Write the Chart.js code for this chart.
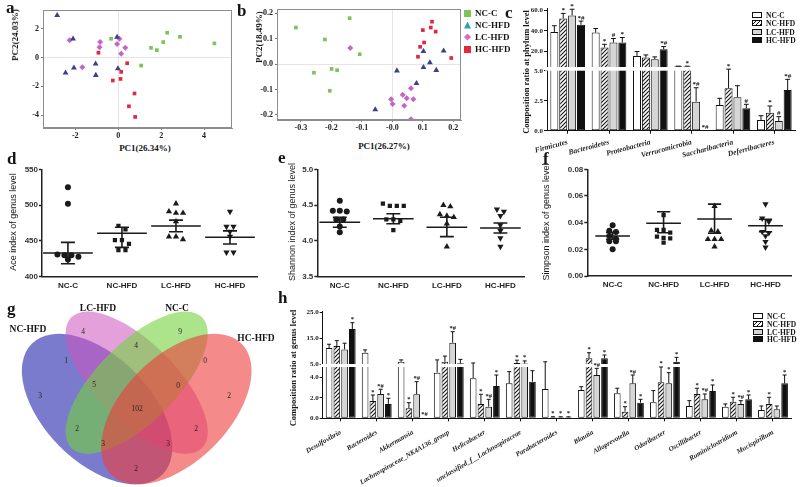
<!DOCTYPE html>
<html>
<head>
<meta charset="utf-8">
<script src="https://cdn.jsdelivr.net/npm/chart.js@4.4.1/dist/chart.umd.min.js"></script>
<style>
  body { margin: 0; background: #fff; }
  #fig { position: relative; width: 800px; height: 487px; overflow: hidden; background: #fff; }
  #fig canvas { position: absolute; }
  .t { position: absolute; white-space: nowrap; line-height: 1; color: #151515; }
</style>
</head>
<body>
<div id="fig"></div>
<script>
// ---------- data ----------
const groups = ['NC-C', 'NC-HFD', 'LC-HFD', 'HC-HFD'];

// a: PCA (PC1 x, PC2 y)
const pcaA_NCC = [[-0.33, 1.3], [1.07, -0.56], [1.53, 0.67], [1.8, 0.51], [2.1, 1.07], [2.28, 1.72], [2.88, 1.44], [4.48, 0.98]];
const pcaA_NCHFD = [[-2.84, 2.93], [-2.1, 1.3], [-2.45, -1.07], [-2.06, -0.72], [-1.05, -0.44], [-1.04, -1.23], [-0.05, 1.42], [-0.01, -0.77]];
const pcaA_LCHFD = [[-2.26, 1.2], [-1.67, -0.67], [-0.84, 1.07], [-0.87, 0.72], [-0.05, 0.93], [0.06, 1.3], [0.33, 0.67], [0.14, 0.26]];
const pcaA_HCHFD = [[-0.92, 0.33], [0.42, -0.4], [0.14, -1.0], [-0.25, -1.6], [0.11, -1.49], [0.76, -2.5], [0.5, -3.39], [0.79, -4.13]];

// b: PCA
const pcaB_NCC = [[-0.316, 0.144], [-0.14, 0.181], [-0.221, 0.097], [-0.107, 0.039], [-0.257, -0.034], [-0.199, -0.019], [-0.181, -0.024], [-0.205, -0.105]];
const pcaB_NCHFD = [[-0.056, -0.179], [0.015, -0.026], [0.079, -0.076], [0.102, 0.05], [0.102, -0.013], [0.123, 0.006], [0.144, -0.024], [0.168, 0.052]];
const pcaB_LCHFD = [[-0.004, -0.138], [0.001, -0.157], [0.034, -0.121], [0.047, -0.134], [0.039, -0.164], [0.061, -0.095], [0.069, -0.138], [0.061, -0.217], [-0.138, 0.063]];
const pcaB_HCHFD = [[0.084, 0.029], [0.091, 0.068], [0.104, 0.085], [0.1, 0.134], [0.126, 0.144], [0.13, 0.167], [0.142, 0.128], [0.193, 0.024]];

// c: phylum level composition (%), mean and SEM
const phyla = ['Firmicutes', 'Bacteroidetes', 'Proteobacteria', 'Verrucomicrobia', 'Saccharibacteria', 'Deferribacteres'];
const phylumNCC = [39, 38.4, 15.7, 5.6, 2.14, 0.89];
const phylumNCHFD = [52, 24, 14.2, 5.5, 3.53, 1.5];
const phylumLCHFD = [55, 28.7, 12.6, 2.42, 2.78, 0.81];
const phylumHCHFD = [46, 28.7, 22.2, 0.03, 1.87, 3.39];
const phylumErrNCC = [6, 3.9, 4.3, 0.2, 0.56, 0.36];
const phylumErrNCHFD = [5, 3, 2.5, 0.3, 1.6, 0.56];
const phylumErrLCHFD = [6, 3.9, 2.2, 1.16, 0.97, 0.36];
const phylumErrHCHFD = [3.5, 4.9, 2.6, 0, 0.33, 0.89];
const phylumMarks = [
  ['', '', '', '', '', ''],
  ['*', '*', '', '*', '*', '*'],
  ['*', '#', '', '*#', '', '#'],
  ['*#', '*', '*#', '*#', '#', '*#'],
];
const phylumTicksLo = [0, 2.5, 5];
const phylumTicksHi = [20, 40, 60];

// d-f: alpha diversity, genus level
const aceNCC = [525, 502, 431, 430, 430, 428, 424];
const aceNCHFD = [471, 466, 451, 451, 446, 437, 437];
const aceLCHFD = [502, 491, 489, 489, 477, 456, 452, 456];
const aceHCHFD = [491, 470, 470, 463, 456, 434, 434];
const aceMean = [433, 460.6, 470.8, 455];
const aceHi = [448, 469, 479, 464];
const aceLo = [418, 441, 462.8, 445.7];
const aceTicks = [400, 450, 500, 550];

const shanNCC = [4.56, 4.42, 4.42, 4.41, 4.3, 4.3, 4.2, 4.12];
const shanNCHFD = [4.52, 4.49, 4.49, 4.49, 4.3, 4.28, 4.3, 4.15];
const shanLCHFD = [4.5, 4.48, 4.37, 4.35, 4.33, 4.24, 3.92];
const shanHCHFD = [4.44, 4.41, 4.35, 4.22, 4.14, 4.04, 3.92];
const shanMean = [4.26, 4.31, 4.19, 4.18];
const shanHi = [4.33, 4.38, 4.33, 4.25];
const shanLo = [4.19, 4.24, 4.06, 4.11];
const shanTicks = [3.5, 4.0, 4.5, 5.0];

const simNCC = [0.038, 0.034, 0.033, 0.03, 0.028, 0.026, 0.026, 0.02];
const simNCHFD = [0.0457, 0.0345, 0.0345, 0.0325, 0.0295, 0.0282, 0.0285, 0.025];
const simLCHFD = [0.0524, 0.034, 0.0332, 0.0275, 0.0275, 0.0275, 0.022];
const simHCHFD = [0.0539, 0.0432, 0.0407, 0.0324, 0.0332, 0.03, 0.0257, 0.0215];
const simMean = [0.03, 0.0395, 0.0427, 0.0377];
const simHi = [0.0327, 0.0482, 0.0539, 0.0425];
const simLo = [0.0275, 0.0324, 0.032, 0.0332];
const simTicks = [0, 0.02, 0.04, 0.06, 0.08];

// g: shared genera (Venn)
const vennSets = ['NC-HFD', 'LC-HFD', 'NC-C', 'HC-HFD'];
const vennCounts = [3, 4, 9, 2, 1, 4, 0, 5, 102, 0, 2, 2, 3, 3, 2];

// h: genus level composition (%), mean and SEM
const genera = ['Desulfovibrio', 'Bacteroides', 'Akkermansia', 'Lachnospiraceae_NK4A136_group', 'Helicobacter',
  'unclassified_f__Lachnospiraceae', 'Parabacteroides', 'Blautia', 'Alloprevotella', 'Odoribacter',
  'Oscillibacter', 'Ruminiclostridium', 'Mucispirillum'];
const genusNCC = [11.2, 9.4, 5.9, 4.45, 3.9, 3.41, 2.86, 2.76, 2.44, 1.56, 1.2, 1.13, 0.81];
const genusNCHFD = [12.0, 1.69, 0.98, 5.9, 1.4, 5.4, 0.1, 7.2, 0.65, 3.51, 2.37, 1.62, 1.4];
const genusLCHFD = [10.7, 2.37, 2.34, 13.3, 1.13, 5.2, 0.1, 4.22, 3.41, 3.41, 1.85, 1.4, 0.88];
const genusHCHFD = [18.6, 1.4, 0.05, 5.3, 3.15, 3.57, 0.1, 7.2, 1.52, 5.9, 2.66, 1.85, 3.41];
const genusErrNCC = [1.5, 1.1, 0.7, 2.15, 1.5, 1.14, 3.0, 0.32, 0.49, 1.14, 0.52, 0.27, 0.39];
const genusErrNCHFD = [2.1, 0.58, 0.54, 2.2, 0.94, 1.1, 0.05, 2.2, 0.48, 1.49, 0.56, 0.43, 0.65];
const genusErrLCHFD = [2.4, 0.46, 1.23, 4.3, 0.72, 1.0, 0.05, 0.65, 0.81, 1.04, 0.52, 0.32, 0.32];
const genusErrHCHFD = [2.5, 0.55, 0, 1.5, 1.07, 1.07, 0.05, 1.3, 0.33, 1.7, 0.59, 0.42, 0.81];
const genusMarks = [
  ['', '', '', '', '', '', '', '', '', '', '', '', ''],
  ['', '*', '*', '', '*', '*', '*', '*', '*', '*', '*', '*', '*'],
  ['', '*#', '*#', '*#', '*#', '*', '*', '*#', '*#', '*', '*#', '*#', ''],
  ['*', '*', '*#', '', '*', '', '*', '*', '*', '*', '*', '*', '*'],
];
const genusTicksLo = [0, 2, 4];
const genusTicksHi = [5, 10, 15, 20, 25];

// ---------- setup ----------
const SERIF = '"Liberation Serif", "Times New Roman", serif';
const SANS = '"Liberation Sans", Arial, sans-serif';
const fig = document.getElementById('fig');

Chart.defaults.font.family = SERIF;
Chart.defaults.color = '#1c1c1c';
Chart.defaults.animation = false;
Chart.defaults.responsive = false;
Chart.defaults.events = [];
Chart.defaults.plugins.legend.display = false;
Chart.defaults.plugins.tooltip.enabled = false;

function canvasAt(left, top, w, h) {
  const c = document.createElement('canvas');
  c.width = w; c.height = h;
  c.style.left = left + 'px'; c.style.top = top + 'px';
  c.style.width = w + 'px'; c.style.height = h + 'px';
  fig.appendChild(c);
  return c;
}

// anchor: 'c' centre, 'l' left-middle, 'lt' left-top
function addText(txt, x, y, font, anchor = 'c', rot = 0) {
  const d = document.createElement('div');
  d.className = 't';
  d.textContent = txt;
  d.style.font = font;
  d.style.left = x + 'px';
  d.style.top = y + 'px';
  const tr = anchor === 'c' ? 'translate(-50%,-50%)' : anchor === 'l' ? 'translate(0,-50%)' : '';
  d.style.transform = `${tr} rotate(${rot}deg)`;
  fig.appendChild(d);
}

// force axis sizes so the plot areas land where the figure has them
const fitW = (w) => (s) => { s.width = w; s.paddingTop = 0; s.paddingBottom = 0; };
const fitH = (h) => (s) => { s.height = h; s.paddingLeft = 0; s.paddingRight = 0; };
const fixedTicks = (list) => (s) => { s.ticks = list.map((value) => ({ value })); };

function hatch() {
  const c = document.createElement('canvas');
  c.width = 4; c.height = 4;
  const g = c.getContext('2d');
  g.fillStyle = '#fff'; g.fillRect(0, 0, 4, 4);
  g.strokeStyle = '#111'; g.lineWidth = 1.1;
  g.beginPath();
  g.moveTo(-1, 5); g.lineTo(5, -1);
  g.moveTo(-1, 1); g.lineTo(1, -1);
  g.moveTo(3, 5); g.lineTo(5, 3);
  g.stroke();
  return g.createPattern(c, 'repeat');
}
const barFills = ['#ffffff', hatch(), '#d6d6d6', '#111111'];
const legendFills = ['#fff', 'repeating-linear-gradient(-45deg,#111 0 1px,#fff 1px 3px)', '#d6d6d6', '#111'];

// ---------- plugins ----------
const framePlugin = {
  id: 'frame',
  afterDatasetsDraw(chart) {
    const { ctx, chartArea: a } = chart;
    ctx.save();
    ctx.strokeStyle = '#8d8d8d';
    ctx.lineWidth = 1;
    ctx.strokeRect(a.left + 0.5, a.top + 0.5, a.right - a.left - 1, a.bottom - a.top - 1);
    ctx.restore();
  },
};

const meanErrPlugin = {
  id: 'meanErr',
  afterDatasetsDraw(chart, args, o) {
    const { ctx, scales: { x, y } } = chart;
    ctx.save();
    ctx.strokeStyle = '#1a1a1a';
    ctx.lineWidth = 1.6;
    const seg = (x0, x1, v) => {
      ctx.moveTo(x.getPixelForValue(x0), y.getPixelForValue(v));
      ctx.lineTo(x.getPixelForValue(x1), y.getPixelForValue(v));
    };
    o.mean.forEach((m, g) => {
      const c = g + 1;
      ctx.beginPath();
      seg(c - o.half, c + o.half, m);
      seg(c - o.cap, c + o.cap, o.hi[g]);
      seg(c - o.cap, c + o.cap, o.lo[g]);
      ctx.moveTo(x.getPixelForValue(c), y.getPixelForValue(o.lo[g]));
      ctx.lineTo(x.getPixelForValue(c), y.getPixelForValue(o.hi[g]));
      ctx.stroke();
    });
    ctx.restore();
  },
};

// white break band, SEM whiskers and significance marks on the broken-axis bar charts
const barErrPlugin = {
  id: 'barErr',
  afterDatasetsDraw(chart, args, o) {
    const { ctx, chartArea: a } = chart;
    const lo = chart.scales.yLo, hi = chart.scales.yHi;
    const px = (v) => (v <= o.loMax ? lo.getPixelForValue(v) : hi.getPixelForValue(v));
    ctx.save();
    const gTop = hi.getPixelForValue(5), gBot = lo.getPixelForValue(5);
    if (gBot > gTop) {
      ctx.fillStyle = '#fff';
      ctx.fillRect(a.left - 2, gTop, a.right - a.left + 3, gBot - gTop);
    }

    ctx.strokeStyle = '#111';
    ctx.lineWidth = 1;
    ctx.fillStyle = '#111';
    ctx.font = `bold ${o.markSize}px ${SERIF}`;
    ctx.textAlign = 'center';
    ctx.textBaseline = 'alphabetic';
    o.vals.forEach((arr, s) => {
      const meta = chart.getDatasetMeta(2 * s);
      arr.forEach((v, j) => {
        const el = meta.data[j];
        const top = px(v), et = px(v + o.errs[s][j]);
        const cap = el.width * 0.3;
        if (o.errs[s][j] > 0) {
          ctx.beginPath();
          ctx.moveTo(el.x, top); ctx.lineTo(el.x, et);
          ctx.moveTo(el.x - cap, et); ctx.lineTo(el.x + cap, et);
          ctx.stroke();
        }
        const m = o.marks[s][j];
        if (m) ctx.fillText(m, el.x, Math.min(et, top) - 1.5);
      });
    });
    ctx.restore();
  },
};

const vennPlugin = {
  id: 'venn',
  beforeDatasetsDraw(chart, args, o) {
    const { ctx, scales: { x, y } } = chart;
    o.shapes.forEach((e) => {
      const cx = x.getPixelForValue(e.cx), cy = y.getPixelForValue(e.cy);
      const ra = x.getPixelForValue(e.cx + e.a) - cx, rb = x.getPixelForValue(e.cx + e.b) - cx;
      ctx.save();
      ctx.fillStyle = e.color;
      ctx.beginPath();
      ctx.ellipse(cx, cy, ra, rb, (e.rot * Math.PI) / 180, 0, Math.PI * 2);
      ctx.fill();
      ctx.restore();
    });
  },
  afterDatasetsDraw(chart, args, o) {
    const { ctx } = chart;
    const meta = chart.getDatasetMeta(0);
    ctx.save();
    ctx.font = `7.5px ${SERIF}`;
    ctx.fillStyle = '#2a2020';
    ctx.textAlign = 'center';
    ctx.textBaseline = 'middle';
    meta.data.forEach((pt, i) => ctx.fillText(String(o.counts[i]), pt.x, pt.y));
    ctx.restore();
  },
};

// ---------- builders ----------
const pcaColors = ['#7cc35c', '#3a3f8e', '#c466c6', '#e2283c'];
const pcaStyles = ['rect', 'triangle', 'rectRot', 'rect'];
const pcaRadius = [2.6, 3.4, 3, 2.6];
const zeroLine = (c) => (c.tick && c.tick.value === 0 ? '#e9e3e3' : 'rgba(0,0,0,0)');

function pcaChart(canvas, sets, cfg) {
  const tickFont = { family: SERIF, weight: 'bold', size: 8 };
  new Chart(canvas, {
    type: 'scatter',
    data: {
      datasets: sets.map((pts, i) => ({
        data: pts.map(([x, y]) => ({ x, y })),
        pointStyle: pcaStyles[i],
        pointRadius: pcaRadius[i],
        backgroundColor: pcaColors[i],
        borderColor: pcaColors[i],
        borderWidth: 0,
      })),
    },
    options: {
      layout: { padding: { left: 0, top: cfg.top, right: cfg.right, bottom: 0 } },
      scales: {
        x: {
          min: cfg.xr[0], max: cfg.xr[1],
          afterBuildTicks: fixedTicks(cfg.xt),
          afterFit: fitH(cfg.xH),
          ticks: { font: tickFont, padding: 1, maxRotation: 0, callback: cfg.xFmt },
          grid: { color: zeroLine, tickColor: '#777', tickLength: 2 },
          border: { color: '#8d8d8d' },
        },
        y: {
          min: cfg.yr[0], max: cfg.yr[1],
          afterBuildTicks: fixedTicks(cfg.yt),
          afterFit: fitW(cfg.yW),
          ticks: { font: tickFont, padding: 2, callback: cfg.yFmt },
          grid: { color: zeroLine, tickColor: '#777', tickLength: 2 },
          border: { color: '#8d8d8d' },
        },
      },
    },
    plugins: [framePlugin],
  });
}

function swarm(vals, thr, step) {
  const sorted = [...vals].sort((p, q) => q - p);
  const rows = [];
  sorted.forEach((v) => {
    const row = rows[rows.length - 1];
    if (row && row[0] - v <= thr) row.push(v);
    else rows.push([v]);
  });
  const out = [];
  rows.forEach((row) => row.forEach((v, i) => out.push([(i - (row.length - 1) / 2) * step, v])));
  return out;
}

const dotStyles = ['circle', 'rect', 'triangle', 'triangle'];
const dotRot = [0, 0, 0, 180];
const dotRadius = [3, 3, 3.6, 3.6];

function dotChart(canvas, sets, stats, cfg) {
  const tickFont = { family: SANS, weight: 'bold', size: 8 };
  new Chart(canvas, {
    type: 'scatter',
    data: {
      datasets: sets.map((vals, g) => ({
        data: swarm(vals, cfg.thr, 0.13).map(([dx, y]) => ({ x: g + 1 + dx, y })),
        pointStyle: dotStyles[g],
        rotation: dotRot[g],
        pointRadius: dotRadius[g],
        backgroundColor: '#1a1a1a',
        borderWidth: 0,
      })),
    },
    options: {
      layout: { padding: { left: 0, top: cfg.top, right: cfg.right, bottom: 0 } },
      plugins: { meanErr: { ...stats, half: cfg.half, cap: 0.13 } },
      scales: {
        x: {
          min: cfg.xr[0], max: cfg.xr[1],
          afterBuildTicks: fixedTicks([1, 2, 3, 4]),
          afterFit: fitH(cfg.xH),
          ticks: { font: tickFont, color: '#222', padding: 4, maxRotation: 0, callback: (v) => groups[v - 1] },
          grid: { display: false, drawTicks: false },
          border: { color: '#222', width: 1.5 },
        },
        y: {
          min: cfg.yr[0], max: cfg.yr[1],
          afterBuildTicks: fixedTicks(cfg.yt),
          afterFit: fitW(cfg.yW),
          ticks: { font: tickFont, color: '#333', padding: 1, callback: cfg.yFmt },
          grid: { drawOnChartArea: false, tickLength: 3, tickColor: '#222', tickWidth: 1.5 },
          border: { color: '#222', width: 1.5 },
        },
      },
    },
    plugins: [meanErrPlugin],
  });
}

function breakBars(canvas, cats, vals, errs, marks, cfg) {
  const datasets = [];
  vals.forEach((arr, s) => {
    const look = {
      stack: 'g' + s,
      backgroundColor: barFills[s],
      borderColor: '#111',
      borderWidth: 1,
      borderSkipped: false,
      categoryPercentage: cfg.catPct,
      barPercentage: cfg.barPct,
    };
    datasets.push({ ...look, yAxisID: 'yLo', data: arr.map((v) => Math.min(v, cfg.loMax)) });
    datasets.push({ ...look, yAxisID: 'yHi', data: arr.map((v) => (v > cfg.loMax ? [cfg.hiMin, v] : null)) });
  });
  const tickFont = { family: SERIF, weight: 'bold', size: 7 };
  const yCommon = {
    type: 'linear', position: 'left', stack: 'v', stacked: false,
    afterFit: fitW(cfg.yW),
    ticks: { font: tickFont, color: '#222', padding: 1, callback: (v) => v.toFixed(1) },
    grid: { drawOnChartArea: false, tickLength: 3, tickColor: '#111' },
    border: { color: '#111' },
  };
  new Chart(canvas, {
    type: 'bar',
    data: { labels: cats, datasets },
    options: {
      layout: { padding: { left: 0, top: cfg.top, right: cfg.right, bottom: 0 } },
      plugins: { barErr: { vals, errs, marks, loMax: cfg.loMax, markSize: cfg.markSize } },
      scales: {
        x: {
          afterFit: fitH(cfg.xH),
          ticks: {
            font: { family: SERIF, weight: 'bold', style: 'italic', size: cfg.labelSize },
            color: '#222', minRotation: cfg.rot, maxRotation: cfg.rot, autoSkip: false, padding: cfg.labelPad,
          },
          grid: { drawOnChartArea: false, offset: false, tickLength: 3, tickColor: '#111' },
          border: { color: '#111' },
        },
        // on the left side the later-declared axis of a stack ends up on top
        yLo: { ...yCommon, stackWeight: cfg.wLo, min: 0, max: cfg.loMax, afterBuildTicks: fixedTicks(cfg.loTicks) },
        yHi: { ...yCommon, stackWeight: cfg.wHi, min: cfg.hiMin, max: cfg.hiMax, afterBuildTicks: fixedTicks(cfg.hiTicks) },
      },
    },
    plugins: [barErrPlugin],
  });
}

function barLegend(x, y0, dy, size) {
  groups.forEach((name, i) => {
    const sw = document.createElement('div');
    sw.style.cssText = `position:absolute;left:${x}px;top:${y0 + i * dy - 3}px;width:8px;height:4px;` +
      `border:1px solid #111;background:${legendFills[i]}`;
    fig.appendChild(sw);
    addText(name, x + 14, y0 + i * dy, `bold ${size}px ${SERIF}`, 'l');
  });
}

// ---------- panel a ----------
pcaChart(canvasAt(0, 0, 240, 140), [pcaA_NCC, pcaA_NCHFD, pcaA_LCHFD, pcaA_HCHFD], {
  xr: [-3.5, 5.3], yr: [-4.9, 3.3], xt: [-2, 0, 2, 4], yt: [-4, -2, 0, 2],
  xFmt: (v) => String(v), yFmt: (v) => String(v),
  top: 10, right: 8, yW: 43, xH: 12,
});
addText('PC2(24.03%)', 15, 35, `bold 9px ${SERIF}`, 'c', -90);
addText('PC1(26.34%)', 145, 148, `bold 9px ${SERIF}`);

// ---------- panel b ----------
pcaChart(canvasAt(250, 0, 215, 135), [pcaB_NCC, pcaB_NCHFD, pcaB_LCHFD, pcaB_HCHFD], {
  xr: [-0.378, 0.225], yr: [-0.22, 0.217], xt: [-0.3, -0.2, -0.1, 0, 0.1, 0.2], yt: [-0.2, -0.1, 0, 0.1, 0.2],
  xFmt: (v) => (v === 0 ? '-0.0' : v.toFixed(1)), yFmt: (v) => v.toFixed(1),
  top: 9, right: 3, yW: 27, xH: 15,
});
addText('PC2(18.49%)', 259, 37, `bold 9px ${SERIF}`, 'c', -90);
addText('PC1(26.27%)', 384, 146, `bold 9px ${SERIF}`);

// legend for a/b
const legShapes = ['none', 'polygon(50% 0,100% 100%,0 100%)', 'polygon(50% 0,100% 50%,50% 100%,0 50%)', 'none'];
const legColors = ['#7cc35c', '#2f9fbf', '#d06ccc', '#e2283c'];
groups.forEach((name, i) => {
  const y = 13 + i * 12;
  const m = document.createElement('div');
  m.style.cssText = `position:absolute;left:464px;top:${y - 3.5}px;width:7px;height:7px;background:${legColors[i]};clip-path:${legShapes[i]}`;
  fig.appendChild(m);
  addText(name, 475, y, `bold 9px ${SERIF}`, 'l');
});

// ---------- panel c ----------
breakBars(canvasAt(528, 0, 272, 160), phyla,
  [phylumNCC, phylumNCHFD, phylumLCHFD, phylumHCHFD],
  [phylumErrNCC, phylumErrNCHFD, phylumErrLCHFD, phylumErrHCHFD],
  phylumMarks, {
    loMax: 5.154, hiMin: 3.2, hiMax: 62.2, wHi: 60.85, wLo: 61.85,
    loTicks: phylumTicksLo, hiTicks: phylumTicksHi,
    top: 8, right: 5, yW: 19, xH: 29.3, rot: 15, labelSize: 7.5, labelPad: 4,
    catPct: 0.86, barPct: 0.9, markSize: 7,
  });
addText('Composition ratio at phylum level', 526, 72, `bold 8.5px ${SERIF}`, 'c', -90);
barLegend(752, 15, 8.4, 7.5);

// ---------- panels d, e, f ----------
dotChart(canvasAt(0, 150, 262, 141), [aceNCC, aceNCHFD, aceLCHFD, aceHCHFD],
  { mean: aceMean, hi: aceHi, lo: aceLo },
  { xr: [0.52, 4.5], yr: [400, 550], yt: aceTicks, yFmt: (v) => String(v),
    top: 19.3, right: 5, yW: 42, xH: 14.3, half: 0.46, thr: 6.5 });
addText('Ace index of genus level', 13, 222, `9px ${SANS}`, 'c', -90);

dotChart(canvasAt(290, 150, 240, 141), [shanNCC, shanNCHFD, shanLCHFD, shanHCHFD],
  { mean: shanMean, hi: shanHi, lo: shanLo },
  { xr: [0.58, 4.45], yr: [3.5, 5.0], yt: shanTicks, yFmt: (v) => v.toFixed(1),
    top: 19.3, right: 5.5, yW: 27.3, xH: 14.3, half: 0.38, thr: 0.065 });
addText('Shannon index of genus level', 292, 222, `9px ${SANS}`, 'c', -90);

dotChart(canvasAt(560, 150, 240, 141), [simNCC, simNCHFD, simLCHFD, simHCHFD],
  { mean: simMean, hi: simHi, lo: simLo },
  { xr: [0.503, 4.5], yr: [0, 0.08], yt: simTicks, yFmt: (v) => v.toFixed(2),
    top: 19.3, right: 9, yW: 27.3, xH: 15, half: 0.34, thr: 0.0032 });
addText('Simpson index of genus level', 546, 222, `9px ${SANS}`, 'c', -90);

// ---------- panel g ----------
// ellipse layout of a classic four-set Venn, in canvas-local units
const vennShapes = [
  { cx: 97.1, cy: 109.1, a: 92.4, b: 52.8, rot: 45, color: 'rgba(55,55,180,0.66)' },
  { cx: 136.7, cy: 82.7, a: 92.4, b: 39.6, rot: 45, color: 'rgba(205,85,190,0.56)' },
  { cx: 136.7, cy: 82.7, a: 92.4, b: 39.6, rot: -45, color: 'rgba(115,210,60,0.6)' },
  { cx: 176.3, cy: 109.1, a: 92.4, b: 52.8, rot: -45, color: 'rgba(238,60,60,0.6)' },
];
const vennSpots = [[40, 96], [83, 32], [180, 32], [229, 96], [66, 61], [136, 46], [205, 61], [94, 85],
  [137, 109], [178, 86], [77, 129], [196, 129], [103, 144], [168, 144], [136, 169]];
new Chart(canvasAt(0, 300, 290, 187), {
  type: 'scatter',
  data: { datasets: [{ data: vennSpots.map(([x, y]) => ({ x, y })), pointRadius: 0 }] },
  options: {
    layout: { padding: 0 },
    plugins: { venn: { shapes: vennShapes, counts: vennCounts } },
    scales: {
      x: { display: false, min: 0, max: 290 },
      y: { display: false, min: 0, max: 187, reverse: true },
    },
  },
  plugins: [vennPlugin],
});
addText(vennSets[1], 98, 308, `bold 9.5px ${SERIF}`);
addText(vennSets[2], 177, 308, `bold 9.5px ${SERIF}`);
addText(vennSets[0], 28, 329, `bold 9.5px ${SERIF}`);
addText(vennSets[3], 256, 338, `bold 9.5px ${SERIF}`);

// ---------- panel h ----------
breakBars(canvasAt(300, 300, 500, 187), genera,
  [genusNCC, genusNCHFD, genusLCHFD, genusHCHFD],
  [genusErrNCC, genusErrNCHFD, genusErrLCHFD, genusErrHCHFD],
  genusMarks, {
    loMax: 5.146, hiMin: 4.42, hiMax: 25.5, wHi: 54.1, wLo: 52.8,
    loTicks: genusTicksLo, hiTicks: genusTicksHi,
    top: 11.4, right: 9, yW: 22.7, xH: 68.7, rot: 30, labelSize: 7, labelPad: 7,
    catPct: 0.86, barPct: 0.86, markSize: 6.5,
  });
addText('Composition ratio at genus level', 293, 368, `bold 8.5px ${SERIF}`, 'c', -90);
barLegend(753, 316, 7.8, 7.5);

// ---------- panel letters ----------
const letterFont = `bold 17px ${SERIF}`;
[['a', 6, -2], ['b', 237, 1], ['c', 505, 3], ['d', 7, 149], ['e', 278, 148],
  ['f', 543, 149], ['g', 7, 299], ['h', 278, 288]].forEach(([t, x, y]) => addText(t, x, y, letterFont, 'lt'));
</script>
</body>
</html>
